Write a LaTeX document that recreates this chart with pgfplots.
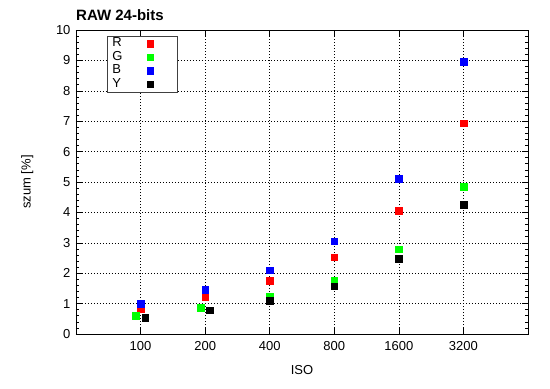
\documentclass[border=0pt]{standalone}
\usepackage{pgfplots}
\pgfplotsset{compat=1.18}
\usepackage{fontspec}
\setmainfont{Liberation Sans}
\begin{document}
\begin{tikzpicture}
\path[use as bounding box] (-76pt,-55pt) rectangle (474pt,334pt);
\begin{axis}[
  scale only axis,
  width=452pt, height=304pt,
  xmin=0, xmax=7, ymin=0, ymax=10,
  xtick={1,2,3,4,5,6},
  xticklabels={100,200,400,800,1600,3200},
  ytick={0,1,...,10},
  minor y tick num=4,
  tick align=inside,
  major tick length=6pt,
  minor tick length=3pt,
  tick style={black, line width=0.6pt},
  grid=major,
  major grid style={black, line width=0.5pt, dash pattern=on 1pt off 2pt},
  axis line style={black, line width=0.9pt},
  font=\fontsize{13}{15}\selectfont,
  tick label style={font=\fontsize{13}{15}\selectfont},
  xticklabel style={yshift=-4pt},
  yticklabel style={xshift=-2pt},
  /pgf/number format/assume math mode=true,
  title={RAW 24-bits},
  title style={at={(axis description cs:0,1)}, anchor=south west, inner sep=0pt, yshift=3pt, font=\fontsize{15}{17}\selectfont\bfseries},
  xlabel={ISO},
  ylabel={szum [\%]},
  xlabel style={at={(axis description cs:0.5,-0.118)}, anchor=center},
  ylabel style={at={(axis description cs:-0.108,0.5)}, anchor=center},
  legend style={at={(axis description cs:0.069,0.98)}, anchor=north west, draw=black!75, line width=0.6pt,
    font=\fontsize{13}{13}\selectfont, inner xsep=5pt, inner ysep=0.5pt, row sep=-0.5pt,
    nodes={inner sep=0pt, text height=10pt, text depth=4pt, text width=28pt}},
  legend cell align=left,
  legend plot pos=right,
  legend image code/.code={\path[draw=none,fill=none] (0pt,-1pt) rectangle (32pt,1pt); \draw[#1] plot coordinates {(10pt,0pt)};},
  every axis plot/.append style={only marks, mark=square*, mark size=3.3pt},
  clip=false,
]
\addplot[mark options={draw=red, fill=red}] coordinates {(1,0.83) (2,1.22) (3,1.75) (4,2.52) (5,4.05) (6,6.93)};
\addlegendentry{R}
\addplot[mark options={draw=green, fill=green}] coordinates {(0.92,0.60) (1.93,0.86) (3,1.23) (4,1.77) (5,2.79) (6,4.85)};
\addlegendentry{G}
\addplot[mark options={draw=blue, fill=blue}] coordinates {(1,0.99) (2,1.46) (3,2.10) (4,3.05) (5,5.10) (6,8.96)};
\addlegendentry{B}
\addplot[mark options={draw=black, fill=black}] coordinates {(1.07,0.54) (2.07,0.78) (3,1.10) (4,1.57) (5,2.47) (6,4.25)};
\addlegendentry{Y}
\end{axis}
\end{tikzpicture}
\end{document}
